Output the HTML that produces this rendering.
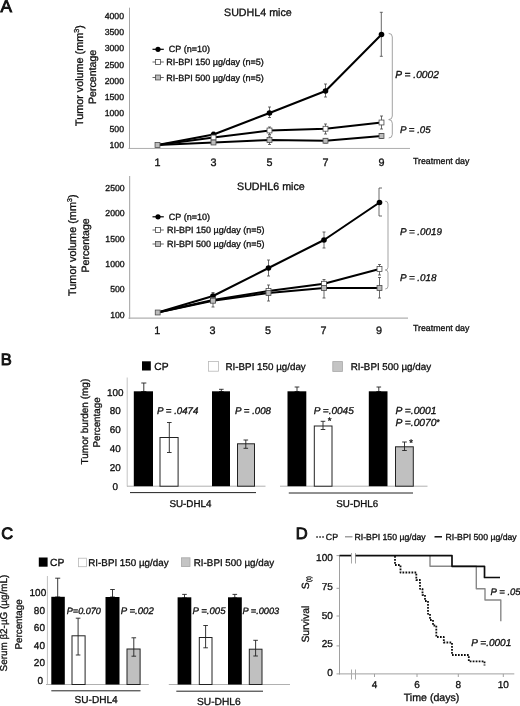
<!DOCTYPE html>
<html><head><meta charset="utf-8"><title>Figure</title>
<style>
html,body{margin:0;padding:0;background:#fff;}
svg{display:block;text-rendering:geometricPrecision;font-family:"Liberation Sans",Arial,Helvetica,sans-serif;}
</style></head><body>
<svg width="520" height="706" viewBox="0 0 520 706">
<defs><filter id="soft" x="0" y="0" width="520" height="706" filterUnits="userSpaceOnUse"><feGaussianBlur stdDeviation="0.35"/></filter></defs>
<rect x="0" y="0" width="520" height="706" fill="#ffffff"/>
<g filter="url(#soft)">
<text x="0.6" y="12.45" font-size="17.2" text-anchor="start" fill="#111" stroke="#111"   stroke-width="0.9">A</text>
<line x1="129.5" y1="7.7" x2="129.5" y2="148.5" stroke="#9c9c9c" stroke-width="0.9" />
<line x1="128.5" y1="148.45" x2="410" y2="148.45" stroke="#a4a4a4" stroke-width="0.9" />
<text x="124" y="19.1" font-size="8.7" text-anchor="end" fill="#0c0c0c" stroke="#0c0c0c" stroke-width="0.3"  >4000</text>
<text x="124" y="35.1" font-size="8.7" text-anchor="end" fill="#0c0c0c" stroke="#0c0c0c" stroke-width="0.3"  >3500</text>
<text x="124" y="51.1" font-size="8.7" text-anchor="end" fill="#0c0c0c" stroke="#0c0c0c" stroke-width="0.3"  >3000</text>
<text x="124" y="67.6" font-size="8.7" text-anchor="end" fill="#0c0c0c" stroke="#0c0c0c" stroke-width="0.3"  >2500</text>
<text x="124" y="83.6" font-size="8.7" text-anchor="end" fill="#0c0c0c" stroke="#0c0c0c" stroke-width="0.3"  >2000</text>
<text x="124" y="100.1" font-size="8.7" text-anchor="end" fill="#0c0c0c" stroke="#0c0c0c" stroke-width="0.3"  >1500</text>
<text x="124" y="116.1" font-size="8.7" text-anchor="end" fill="#0c0c0c" stroke="#0c0c0c" stroke-width="0.3"  >1000</text>
<text x="124" y="132.1" font-size="8.7" text-anchor="end" fill="#0c0c0c" stroke="#0c0c0c" stroke-width="0.3"  >500</text>
<text x="124" y="148.1" font-size="8.7" text-anchor="end" fill="#0c0c0c" stroke="#0c0c0c" stroke-width="0.3"  >100</text>
<text transform="translate(82.5 126) rotate(-90)" font-size="10.8" text-anchor="start" fill="#0c0c0c" stroke="#0c0c0c" stroke-width="0.3" >Tumor volume (mm<tspan font-size="7.2" dy="-3.5">3</tspan><tspan dy="3.5">)</tspan></text>
<text transform="translate(95.8 104) rotate(-90)" font-size="10.6" text-anchor="start" fill="#0c0c0c" stroke="#0c0c0c" stroke-width="0.3" >Percentage</text>
<text x="224" y="15.5" font-size="10.7" text-anchor="start" fill="#0c0c0c" stroke="#0c0c0c" stroke-width="0.3"  >SUDHL4 mice</text>
<text x="157.4" y="165.6" font-size="10.8" text-anchor="middle" fill="#0c0c0c" stroke="#0c0c0c" stroke-width="0.3"  >1</text>
<text x="213.4" y="165.6" font-size="10.8" text-anchor="middle" fill="#0c0c0c" stroke="#0c0c0c" stroke-width="0.3"  >3</text>
<text x="269.4" y="165.6" font-size="10.8" text-anchor="middle" fill="#0c0c0c" stroke="#0c0c0c" stroke-width="0.3"  >5</text>
<text x="325.4" y="165.6" font-size="10.8" text-anchor="middle" fill="#0c0c0c" stroke="#0c0c0c" stroke-width="0.3"  >7</text>
<text x="381.4" y="165.6" font-size="10.8" text-anchor="middle" fill="#0c0c0c" stroke="#0c0c0c" stroke-width="0.3"  >9</text>
<text x="413" y="164" font-size="8.8" text-anchor="start" fill="#0c0c0c" stroke="#0c0c0c" stroke-width="0.3"  >Treatment day</text>
<line x1="381.3" y1="12.3" x2="381.3" y2="56.3" stroke="#444" stroke-width="0.8" />
<line x1="379.8" y1="12.3" x2="382.8" y2="12.3" stroke="#444" stroke-width="0.8" />
<line x1="379.8" y1="56.3" x2="382.8" y2="56.3" stroke="#444" stroke-width="0.8" />
<line x1="325.5" y1="84" x2="325.5" y2="97" stroke="#444" stroke-width="0.8" />
<line x1="324.0" y1="84" x2="327.0" y2="84" stroke="#444" stroke-width="0.8" />
<line x1="324.0" y1="97" x2="327.0" y2="97" stroke="#444" stroke-width="0.8" />
<line x1="269.5" y1="107" x2="269.5" y2="117.5" stroke="#444" stroke-width="0.8" />
<line x1="268.0" y1="107" x2="271.0" y2="107" stroke="#444" stroke-width="0.8" />
<line x1="268.0" y1="117.5" x2="271.0" y2="117.5" stroke="#444" stroke-width="0.8" />
<line x1="213.5" y1="132" x2="213.5" y2="137" stroke="#444" stroke-width="0.8" />
<line x1="212.0" y1="132" x2="215.0" y2="132" stroke="#444" stroke-width="0.8" />
<line x1="212.0" y1="137" x2="215.0" y2="137" stroke="#444" stroke-width="0.8" />
<line x1="269.5" y1="127" x2="269.5" y2="134.5" stroke="#444" stroke-width="0.8" />
<line x1="268.0" y1="127" x2="271.0" y2="127" stroke="#444" stroke-width="0.8" />
<line x1="268.0" y1="134.5" x2="271.0" y2="134.5" stroke="#444" stroke-width="0.8" />
<line x1="325.5" y1="124" x2="325.5" y2="134" stroke="#444" stroke-width="0.8" />
<line x1="324.0" y1="124" x2="327.0" y2="124" stroke="#444" stroke-width="0.8" />
<line x1="324.0" y1="134" x2="327.0" y2="134" stroke="#444" stroke-width="0.8" />
<line x1="381.5" y1="116" x2="381.5" y2="129" stroke="#444" stroke-width="0.8" />
<line x1="380.0" y1="116" x2="383.0" y2="116" stroke="#444" stroke-width="0.8" />
<line x1="380.0" y1="129" x2="383.0" y2="129" stroke="#444" stroke-width="0.8" />
<line x1="269.5" y1="136" x2="269.5" y2="144.5" stroke="#444" stroke-width="0.8" />
<line x1="268.0" y1="136" x2="271.0" y2="136" stroke="#444" stroke-width="0.8" />
<line x1="268.0" y1="144.5" x2="271.0" y2="144.5" stroke="#444" stroke-width="0.8" />
<line x1="325.5" y1="138.5" x2="325.5" y2="143" stroke="#444" stroke-width="0.8" />
<line x1="324.0" y1="138.5" x2="327.0" y2="138.5" stroke="#444" stroke-width="0.8" />
<line x1="324.0" y1="143" x2="327.0" y2="143" stroke="#444" stroke-width="0.8" />
<line x1="381.5" y1="133.5" x2="381.5" y2="138.5" stroke="#444" stroke-width="0.8" />
<line x1="380.0" y1="133.5" x2="383.0" y2="133.5" stroke="#444" stroke-width="0.8" />
<line x1="380.0" y1="138.5" x2="383.0" y2="138.5" stroke="#444" stroke-width="0.8" />
<polyline points="157.5,145 213.5,142.5 269.5,140 325.5,140.75 381.5,136" fill="none" stroke="#000" stroke-width="2.05" stroke-linejoin="round" />
<polyline points="157.5,145 213.5,137.5 269.5,130.5 325.5,128.75 381.5,122.5" fill="none" stroke="#000" stroke-width="2.05" stroke-linejoin="round" />
<polyline points="157.5,145 213.5,134.5 269.5,113 325.5,91 381.5,34.5" fill="none" stroke="#000" stroke-width="2.05" stroke-linejoin="round" />
<circle cx="213.5" cy="134.5" r="2.8" fill="#000"/>
<circle cx="269.5" cy="113" r="2.8" fill="#000"/>
<circle cx="325.5" cy="91" r="2.8" fill="#000"/>
<circle cx="381.5" cy="34.5" r="2.8" fill="#000"/>
<rect x="211.05" y="135.05" width="4.9" height="4.9" fill="#fff" stroke="#4a4a4a" stroke-width="0.8"/>
<rect x="267.05" y="128.05" width="4.9" height="4.9" fill="#fff" stroke="#4a4a4a" stroke-width="0.8"/>
<rect x="323.05" y="126.3" width="4.9" height="4.9" fill="#fff" stroke="#4a4a4a" stroke-width="0.8"/>
<rect x="379.05" y="120.05" width="4.9" height="4.9" fill="#fff" stroke="#4a4a4a" stroke-width="0.8"/>
<rect x="155.05" y="142.55" width="4.9" height="4.9" fill="#bcbcbc" stroke="#4a4a4a" stroke-width="0.8"/>
<rect x="211.05" y="140.05" width="4.9" height="4.9" fill="#bcbcbc" stroke="#4a4a4a" stroke-width="0.8"/>
<rect x="267.05" y="137.55" width="4.9" height="4.9" fill="#bcbcbc" stroke="#4a4a4a" stroke-width="0.8"/>
<rect x="323.05" y="138.3" width="4.9" height="4.9" fill="#bcbcbc" stroke="#4a4a4a" stroke-width="0.8"/>
<rect x="379.05" y="133.55" width="4.9" height="4.9" fill="#bcbcbc" stroke="#4a4a4a" stroke-width="0.8"/>
<line x1="152.5" y1="49.3" x2="163.8" y2="49.3" stroke="#000" stroke-width="1.2" />
<circle cx="158" cy="49.3" r="2.6" fill="#000"/>
<text x="168.8" y="52.3" font-size="9" text-anchor="start" fill="#0c0c0c" stroke="#0c0c0c" stroke-width="0.3"  >CP (n=10)</text>
<line x1="152.5" y1="62" x2="163.8" y2="62" stroke="#555" stroke-width="0.9" />
<rect x="155.55" y="59.55" width="4.9" height="4.9" fill="#fff" stroke="#4a4a4a" stroke-width="0.8"/>
<text x="166.3" y="65" font-size="9" text-anchor="start" fill="#0c0c0c" stroke="#0c0c0c" stroke-width="0.3"  >RI-BPI 150 &#181;g/day (n=5)</text>
<line x1="152.5" y1="77.5" x2="163.8" y2="77.5" stroke="#555" stroke-width="0.9" />
<rect x="155.55" y="75.05" width="4.9" height="4.9" fill="#bcbcbc" stroke="#4a4a4a" stroke-width="0.8"/>
<text x="166.3" y="80.5" font-size="9" text-anchor="start" fill="#0c0c0c" stroke="#0c0c0c" stroke-width="0.3"  >RI-BPI 500 &#181;g/day (n=5)</text>
<path d="M388.7 33.4 Q392.3 33.4 392.3 37.00000000000002 L392.3 115.99999999999997 Q392.3 119.6 388.7 119.6" fill="none" stroke="#999" stroke-width="0.9"/>
<path d="M388.7 119.6 Q392.3 119.6 392.3 123.20000000000002 L392.3 134.39999999999998 Q392.3 138 388.7 138" fill="none" stroke="#999" stroke-width="0.9"/>
<text x="395.3" y="78.2" font-size="10.2" text-anchor="start" fill="#0c0c0c" stroke="#0c0c0c" stroke-width="0.3" font-style="italic" >P = .0002</text>
<text x="400" y="132.5" font-size="9.7" text-anchor="start" fill="#0c0c0c" stroke="#0c0c0c" stroke-width="0.3" font-style="italic" >P = .05</text>
<line x1="129.6" y1="176" x2="129.6" y2="319" stroke="#b0b0b0" stroke-width="1.2" />
<line x1="128.5" y1="318.2" x2="408" y2="318.2" stroke="#b0b0b0" stroke-width="1.2" />
<text x="124.7" y="191.0" font-size="8.7" text-anchor="end" fill="#0c0c0c" stroke="#0c0c0c" stroke-width="0.3"  >2500</text>
<text x="124.7" y="216.25" font-size="8.7" text-anchor="end" fill="#0c0c0c" stroke="#0c0c0c" stroke-width="0.3"  >2000</text>
<text x="124.7" y="241.5" font-size="8.7" text-anchor="end" fill="#0c0c0c" stroke="#0c0c0c" stroke-width="0.3"  >1500</text>
<text x="124.7" y="266.75" font-size="8.7" text-anchor="end" fill="#0c0c0c" stroke="#0c0c0c" stroke-width="0.3"  >1000</text>
<text x="124.7" y="292.25" font-size="8.7" text-anchor="end" fill="#0c0c0c" stroke="#0c0c0c" stroke-width="0.3"  >500</text>
<text x="124.7" y="317.5" font-size="8.7" text-anchor="end" fill="#0c0c0c" stroke="#0c0c0c" stroke-width="0.3"  >100</text>
<text transform="translate(75.5 296) rotate(-90)" font-size="10.9" text-anchor="start" fill="#0c0c0c" stroke="#0c0c0c" stroke-width="0.3" >Tumor volume (mm<tspan font-size="7" dy="-3.5">3</tspan><tspan dy="3.5">)</tspan></text>
<text transform="translate(89.3 272.5) rotate(-90)" font-size="10.6" text-anchor="start" fill="#0c0c0c" stroke="#0c0c0c" stroke-width="0.3" >Percentage</text>
<text x="237" y="189.5" font-size="10.7" text-anchor="start" fill="#0c0c0c" stroke="#0c0c0c" stroke-width="0.3"  >SUDHL6 mice</text>
<text x="157.29999999999998" y="334" font-size="10.8" text-anchor="middle" fill="#0c0c0c" stroke="#0c0c0c" stroke-width="0.3"  >1</text>
<text x="212.6" y="334" font-size="10.8" text-anchor="middle" fill="#0c0c0c" stroke="#0c0c0c" stroke-width="0.3"  >3</text>
<text x="268.1" y="334" font-size="10.8" text-anchor="middle" fill="#0c0c0c" stroke="#0c0c0c" stroke-width="0.3"  >5</text>
<text x="323.6" y="334" font-size="10.8" text-anchor="middle" fill="#0c0c0c" stroke="#0c0c0c" stroke-width="0.3"  >7</text>
<text x="379.1" y="334" font-size="10.8" text-anchor="middle" fill="#0c0c0c" stroke="#0c0c0c" stroke-width="0.3"  >9</text>
<text x="413" y="331.3" font-size="8.8" text-anchor="start" fill="#0c0c0c" stroke="#0c0c0c" stroke-width="0.3"  >Treatment day</text>
<line x1="379" y1="188" x2="379" y2="216" stroke="#444" stroke-width="0.8" />
<line x1="379" y1="188" x2="382" y2="188" stroke="#444" stroke-width="0.8" />
<line x1="379" y1="216" x2="382" y2="216" stroke="#444" stroke-width="0.8" />
<line x1="324" y1="232" x2="324" y2="248" stroke="#444" stroke-width="0.8" />
<line x1="322.5" y1="232" x2="325.5" y2="232" stroke="#444" stroke-width="0.8" />
<line x1="322.5" y1="248" x2="325.5" y2="248" stroke="#444" stroke-width="0.8" />
<line x1="268.5" y1="260" x2="268.5" y2="276" stroke="#444" stroke-width="0.8" />
<line x1="267.0" y1="260" x2="270.0" y2="260" stroke="#444" stroke-width="0.8" />
<line x1="267.0" y1="276" x2="270.0" y2="276" stroke="#444" stroke-width="0.8" />
<line x1="213" y1="292.5" x2="213" y2="307" stroke="#444" stroke-width="0.8" />
<line x1="211.5" y1="292.5" x2="214.5" y2="292.5" stroke="#444" stroke-width="0.8" />
<line x1="211.5" y1="307" x2="214.5" y2="307" stroke="#444" stroke-width="0.8" />
<line x1="379.5" y1="264.5" x2="379.5" y2="275" stroke="#444" stroke-width="0.8" />
<line x1="378.0" y1="264.5" x2="381.0" y2="264.5" stroke="#444" stroke-width="0.8" />
<line x1="378.0" y1="275" x2="381.0" y2="275" stroke="#444" stroke-width="0.8" />
<line x1="324" y1="279.5" x2="324" y2="298" stroke="#444" stroke-width="0.8" />
<line x1="322.5" y1="279.5" x2="325.5" y2="279.5" stroke="#444" stroke-width="0.8" />
<line x1="322.5" y1="298" x2="325.5" y2="298" stroke="#444" stroke-width="0.8" />
<line x1="268.5" y1="285" x2="268.5" y2="301" stroke="#444" stroke-width="0.8" />
<line x1="267.0" y1="285" x2="270.0" y2="285" stroke="#444" stroke-width="0.8" />
<line x1="267.0" y1="301" x2="270.0" y2="301" stroke="#444" stroke-width="0.8" />
<line x1="379.5" y1="277.5" x2="379.5" y2="298" stroke="#444" stroke-width="0.8" />
<line x1="378.0" y1="277.5" x2="381.0" y2="277.5" stroke="#444" stroke-width="0.8" />
<line x1="378.0" y1="298" x2="381.0" y2="298" stroke="#444" stroke-width="0.8" />
<polyline points="157.7,312.5 213,300.75 268.5,293 324,288 379.5,288" fill="none" stroke="#000" stroke-width="2.05" stroke-linejoin="round" />
<polyline points="157.7,312.5 213,300 268.5,291 324,283.75 379.5,269" fill="none" stroke="#000" stroke-width="2.05" stroke-linejoin="round" />
<polyline points="157.7,312.5 213,296 268.5,268 324,240 379.5,202.5" fill="none" stroke="#000" stroke-width="2.05" stroke-linejoin="round" />
<circle cx="213" cy="296" r="2.8" fill="#000"/>
<circle cx="268.5" cy="268" r="2.8" fill="#000"/>
<circle cx="324" cy="240" r="2.8" fill="#000"/>
<circle cx="379.5" cy="202.5" r="2.8" fill="#000"/>
<rect x="210.55" y="297.55" width="4.9" height="4.9" fill="#fff" stroke="#4a4a4a" stroke-width="0.8"/>
<rect x="266.05" y="288.55" width="4.9" height="4.9" fill="#fff" stroke="#4a4a4a" stroke-width="0.8"/>
<rect x="321.55" y="281.3" width="4.9" height="4.9" fill="#fff" stroke="#4a4a4a" stroke-width="0.8"/>
<rect x="377.05" y="266.55" width="4.9" height="4.9" fill="#fff" stroke="#4a4a4a" stroke-width="0.8"/>
<rect x="155.25" y="310.05" width="4.9" height="4.9" fill="#bcbcbc" stroke="#4a4a4a" stroke-width="0.8"/>
<rect x="210.55" y="298.3" width="4.9" height="4.9" fill="#bcbcbc" stroke="#4a4a4a" stroke-width="0.8"/>
<rect x="266.05" y="290.55" width="4.9" height="4.9" fill="#bcbcbc" stroke="#4a4a4a" stroke-width="0.8"/>
<rect x="321.55" y="285.55" width="4.9" height="4.9" fill="#bcbcbc" stroke="#4a4a4a" stroke-width="0.8"/>
<rect x="377.05" y="285.55" width="4.9" height="4.9" fill="#bcbcbc" stroke="#4a4a4a" stroke-width="0.8"/>
<line x1="152.5" y1="216.8" x2="163.8" y2="216.8" stroke="#000" stroke-width="1.2" />
<circle cx="158" cy="216.8" r="2.6" fill="#000"/>
<text x="168.8" y="219.8" font-size="9" text-anchor="start" fill="#0c0c0c" stroke="#0c0c0c" stroke-width="0.3"  >CP (n=10)</text>
<line x1="152.5" y1="230" x2="163.8" y2="230" stroke="#555" stroke-width="0.9" />
<rect x="155.55" y="227.55" width="4.9" height="4.9" fill="#fff" stroke="#4a4a4a" stroke-width="0.8"/>
<text x="167" y="233" font-size="9" text-anchor="start" fill="#0c0c0c" stroke="#0c0c0c" stroke-width="0.3"  >RI-BPI 150 &#181;g/day (n=5)</text>
<line x1="152.5" y1="244" x2="163.8" y2="244" stroke="#555" stroke-width="0.9" />
<rect x="155.55" y="241.55" width="4.9" height="4.9" fill="#bcbcbc" stroke="#4a4a4a" stroke-width="0.8"/>
<text x="167" y="247" font-size="9" text-anchor="start" fill="#0c0c0c" stroke="#0c0c0c" stroke-width="0.3"  >RI-BPI 500 &#181;g/day (n=5)</text>
<path d="M385.2 201.2 Q388 201.2 388 204.0 L388 267.2 Q388 270 385.2 270" fill="none" stroke="#999" stroke-width="0.9"/>
<path d="M385.2 270 Q388 270 388 272.8 L388 286.2 Q388 289 385.2 289" fill="none" stroke="#999" stroke-width="0.9"/>
<text x="400" y="234.5" font-size="9.8" text-anchor="start" fill="#0c0c0c" stroke="#0c0c0c" stroke-width="0.3" font-style="italic" >P = .0019</text>
<text x="400" y="280.5" font-size="9.8" text-anchor="start" fill="#0c0c0c" stroke="#0c0c0c" stroke-width="0.3" font-style="italic" >P = .018</text>
<text x="0.85" y="365.45" font-size="16.5" text-anchor="start" fill="#111" stroke="#111"   stroke-width="0.9">B</text>
<line x1="127.2" y1="377.5" x2="127.2" y2="486.5" stroke="#c4c4c4" stroke-width="1" />
<line x1="127" y1="486.2" x2="265.5" y2="486.2" stroke="#b0b0b0" stroke-width="1" />
<line x1="280" y1="486.2" x2="427.5" y2="486.2" stroke="#b0b0b0" stroke-width="1" />
<text x="115.3" y="395.6" font-size="9.9" text-anchor="middle" fill="#0c0c0c" stroke="#0c0c0c" stroke-width="0.3"  >100</text>
<text x="115.3" y="414.40000000000003" font-size="9.9" text-anchor="middle" fill="#0c0c0c" stroke="#0c0c0c" stroke-width="0.3"  >80</text>
<text x="115.3" y="433.3" font-size="9.9" text-anchor="middle" fill="#0c0c0c" stroke="#0c0c0c" stroke-width="0.3"  >60</text>
<text x="115.3" y="452.1" font-size="9.9" text-anchor="middle" fill="#0c0c0c" stroke="#0c0c0c" stroke-width="0.3"  >40</text>
<text x="115.3" y="471.0" font-size="9.9" text-anchor="middle" fill="#0c0c0c" stroke="#0c0c0c" stroke-width="0.3"  >20</text>
<text x="115.3" y="489.8" font-size="9.9" text-anchor="middle" fill="#0c0c0c" stroke="#0c0c0c" stroke-width="0.3"  >0</text>
<text transform="translate(87.5 464.5) rotate(-90)" font-size="10" text-anchor="start" fill="#0c0c0c" stroke="#0c0c0c" stroke-width="0.3" >Tumor burden (mg)</text>
<text transform="translate(99.8 447.5) rotate(-90)" font-size="9.8" text-anchor="start" fill="#0c0c0c" stroke="#0c0c0c" stroke-width="0.3" >Percentage</text>
<rect x="142" y="361.3" width="8.8" height="9.2" fill="#000" stroke="none" stroke-width="1"/>
<text x="154.3" y="370" font-size="10.3" text-anchor="start" fill="#0c0c0c" stroke="#0c0c0c" stroke-width="0.3"  >CP</text>
<rect x="208.5" y="361.5" width="10" height="9.7" fill="#fff" stroke="#b8b8b8" stroke-width="0.8"/>
<text x="225.5" y="370" font-size="9.8" text-anchor="start" fill="#0c0c0c" stroke="#0c0c0c" stroke-width="0.3"  >RI-BPI 150 &#181;g/day</text>
<rect x="332.8" y="361.6" width="9.6" height="9.8" fill="#c4c4c4" stroke="#a8a8a8" stroke-width="0.8"/>
<text x="350.8" y="370" font-size="9.8" text-anchor="start" fill="#0c0c0c" stroke="#0c0c0c" stroke-width="0.3"  >RI-BPI 500 &#181;g/day</text>
<line x1="143.8" y1="383" x2="143.8" y2="391.5" stroke="#222" stroke-width="0.9" />
<line x1="141.3" y1="383" x2="146.3" y2="383" stroke="#222" stroke-width="0.9" />
<line x1="141.3" y1="391.5" x2="146.3" y2="391.5" stroke="#222" stroke-width="0.9" />
<rect x="133.8" y="391.3" width="19.19999999999999" height="94.89999999999998" fill="#000" stroke="none" stroke-width="1"/>
<rect x="160.0" y="437.5" width="18.099999999999994" height="48.69999999999999" fill="#fff" stroke="#222" stroke-width="1"/>
<line x1="169.3" y1="422.5" x2="169.3" y2="452.5" stroke="#222" stroke-width="0.9" />
<line x1="167.0" y1="422.5" x2="171.60000000000002" y2="422.5" stroke="#222" stroke-width="0.9" />
<line x1="167.0" y1="452.5" x2="171.60000000000002" y2="452.5" stroke="#222" stroke-width="0.9" />
<line x1="221.3" y1="389.3" x2="221.3" y2="391.5" stroke="#222" stroke-width="0.9" />
<line x1="219.0" y1="389.3" x2="223.60000000000002" y2="389.3" stroke="#222" stroke-width="0.9" />
<line x1="219.0" y1="391.5" x2="223.60000000000002" y2="391.5" stroke="#222" stroke-width="0.9" />
<rect x="212" y="391.3" width="18" height="94.89999999999998" fill="#000" stroke="none" stroke-width="1"/>
<rect x="237.5" y="443.8" width="17" height="42.39999999999998" fill="#c0c0c0" stroke="#222" stroke-width="1"/>
<line x1="245.8" y1="440" x2="245.8" y2="448.3" stroke="#222" stroke-width="0.9" />
<line x1="243.5" y1="440" x2="248.10000000000002" y2="440" stroke="#222" stroke-width="0.9" />
<line x1="243.5" y1="448.3" x2="248.10000000000002" y2="448.3" stroke="#222" stroke-width="0.9" />
<line x1="297" y1="387" x2="297" y2="391.5" stroke="#222" stroke-width="0.9" />
<line x1="294.7" y1="387" x2="299.3" y2="387" stroke="#222" stroke-width="0.9" />
<line x1="294.7" y1="391.5" x2="299.3" y2="391.5" stroke="#222" stroke-width="0.9" />
<rect x="287.5" y="391.3" width="18.80000000000001" height="94.89999999999998" fill="#000" stroke="none" stroke-width="1"/>
<rect x="314.3" y="426.0" width="17.69999999999999" height="60.19999999999999" fill="#fff" stroke="#222" stroke-width="1"/>
<line x1="323" y1="421.3" x2="323" y2="429.5" stroke="#222" stroke-width="0.9" />
<line x1="320.7" y1="421.3" x2="325.3" y2="421.3" stroke="#222" stroke-width="0.9" />
<line x1="320.7" y1="429.5" x2="325.3" y2="429.5" stroke="#222" stroke-width="0.9" />
<line x1="378.8" y1="387" x2="378.8" y2="391.5" stroke="#222" stroke-width="0.9" />
<line x1="376.5" y1="387" x2="381.1" y2="387" stroke="#222" stroke-width="0.9" />
<line x1="376.5" y1="391.5" x2="381.1" y2="391.5" stroke="#222" stroke-width="0.9" />
<rect x="368.8" y="391.3" width="18.69999999999999" height="94.89999999999998" fill="#000" stroke="none" stroke-width="1"/>
<rect x="395.5" y="446.8" width="17.80000000000001" height="39.39999999999998" fill="#c0c0c0" stroke="#222" stroke-width="1"/>
<line x1="404.5" y1="442" x2="404.5" y2="450.5" stroke="#222" stroke-width="0.9" />
<line x1="402.2" y1="442" x2="406.8" y2="442" stroke="#222" stroke-width="0.9" />
<line x1="402.2" y1="450.5" x2="406.8" y2="450.5" stroke="#222" stroke-width="0.9" />
<text x="329.5" y="424.2" font-size="9.5" text-anchor="middle" fill="#0c0c0c" stroke="#0c0c0c" stroke-width="0.3"  >*</text>
<text x="411" y="446.2" font-size="9.5" text-anchor="middle" fill="#0c0c0c" stroke="#0c0c0c" stroke-width="0.3"  >*</text>
<line x1="130" y1="492.6" x2="256" y2="492.6" stroke="#222" stroke-width="1" />
<line x1="288.8" y1="493" x2="413" y2="493" stroke="#222" stroke-width="1" />
<text x="169.5" y="507.3" font-size="9.8" text-anchor="start" fill="#0c0c0c" stroke="#0c0c0c" stroke-width="0.3"  >SU-DHL4</text>
<text x="336.3" y="506.5" font-size="9.8" text-anchor="start" fill="#0c0c0c" stroke="#0c0c0c" stroke-width="0.3"  >SU-DHL6</text>
<text x="157" y="413.8" font-size="9.7" text-anchor="start" fill="#0c0c0c" stroke="#0c0c0c" stroke-width="0.3" font-style="italic" >P = .0474</text>
<text x="235" y="413.8" font-size="9.7" text-anchor="start" fill="#0c0c0c" stroke="#0c0c0c" stroke-width="0.3" font-style="italic" >P = .008</text>
<text x="313.8" y="413.8" font-size="10" text-anchor="start" fill="#0c0c0c" stroke="#0c0c0c" stroke-width="0.3" font-style="italic" >P =.0045</text>
<text x="395.5" y="414.3" font-size="10.25" text-anchor="start" fill="#0c0c0c" stroke="#0c0c0c" stroke-width="0.3" font-style="italic" >P =.0001</text>
<text x="395.5" y="426.2" font-size="10.25" text-anchor="start" fill="#0c0c0c" stroke="#0c0c0c" stroke-width="0.3" font-style="italic" >P =.0070<tspan font-size="8.5" dy="-1" font-style="normal">*</tspan></text>
<text x="1.35" y="539.0" font-size="16.5" text-anchor="start" fill="#111" stroke="#111"   stroke-width="0.9">C</text>
<rect x="38.8" y="557.5" width="8.8" height="9.2" fill="#000" stroke="none" stroke-width="1"/>
<text x="50" y="566.3" font-size="10.3" text-anchor="start" fill="#0c0c0c" stroke="#0c0c0c" stroke-width="0.3"  >CP</text>
<rect x="78.5" y="558.2" width="8" height="8.5" fill="#fff" stroke="#b8b8b8" stroke-width="0.8"/>
<text x="88.3" y="566.3" font-size="9.8" text-anchor="start" fill="#0c0c0c" stroke="#0c0c0c" stroke-width="0.3"  >RI-BPI 150 &#181;g/day</text>
<rect x="181.5" y="557.8" width="8.5" height="8.8" fill="#c4c4c4" stroke="#a8a8a8" stroke-width="0.8"/>
<text x="193.8" y="566.3" font-size="9.8" text-anchor="start" fill="#0c0c0c" stroke="#0c0c0c" stroke-width="0.3"  >RI-BPI 500 &#181;g/day</text>
<line x1="47.4" y1="576" x2="47.4" y2="685" stroke="#c0c0c0" stroke-width="1" />
<line x1="46" y1="684.5" x2="148.8" y2="684.5" stroke="#b0b0b0" stroke-width="1" />
<line x1="168.8" y1="684.5" x2="290" y2="684.5" stroke="#b0b0b0" stroke-width="1" />
<text x="37.9" y="596.0" font-size="10" text-anchor="middle" fill="#0c0c0c" stroke="#0c0c0c" stroke-width="0.3"  >100</text>
<text x="39.4" y="613.5" font-size="10" text-anchor="middle" fill="#0c0c0c" stroke="#0c0c0c" stroke-width="0.3"  >80</text>
<text x="39.4" y="631.0" font-size="10" text-anchor="middle" fill="#0c0c0c" stroke="#0c0c0c" stroke-width="0.3"  >60</text>
<text x="39.4" y="648.5" font-size="10" text-anchor="middle" fill="#0c0c0c" stroke="#0c0c0c" stroke-width="0.3"  >40</text>
<text x="39.4" y="666.0" font-size="10" text-anchor="middle" fill="#0c0c0c" stroke="#0c0c0c" stroke-width="0.3"  >20</text>
<text x="40.4" y="683.5" font-size="10" text-anchor="middle" fill="#0c0c0c" stroke="#0c0c0c" stroke-width="0.3"  >0</text>
<text transform="translate(7.2 671.4) rotate(-90)" font-size="9.9" text-anchor="start" fill="#0c0c0c" stroke="#0c0c0c" stroke-width="0.3" >Serum &#946;2-&#181;G (&#181;g/mL)</text>
<text transform="translate(21.9 649.5) rotate(-90)" font-size="9.8" text-anchor="start" fill="#0c0c0c" stroke="#0c0c0c" stroke-width="0.3" >Percentage</text>
<line x1="57.7" y1="578.2" x2="57.7" y2="597" stroke="#222" stroke-width="0.9" />
<line x1="55.2" y1="578.2" x2="60.2" y2="578.2" stroke="#222" stroke-width="0.9" />
<line x1="55.2" y1="597" x2="60.2" y2="597" stroke="#222" stroke-width="0.9" />
<rect x="51.3" y="596.8" width="13.5" height="87.70000000000005" fill="#000" stroke="none" stroke-width="1"/>
<rect x="72.0" y="635.8" width="13.099999999999994" height="48.700000000000045" fill="#fff" stroke="#222" stroke-width="1"/>
<line x1="78.1" y1="618.2" x2="78.1" y2="655" stroke="#222" stroke-width="0.9" />
<line x1="75.8" y1="618.2" x2="80.39999999999999" y2="618.2" stroke="#222" stroke-width="0.9" />
<line x1="75.8" y1="655" x2="80.39999999999999" y2="655" stroke="#222" stroke-width="0.9" />
<line x1="112.5" y1="589.5" x2="112.5" y2="597" stroke="#222" stroke-width="0.9" />
<line x1="110.2" y1="589.5" x2="114.8" y2="589.5" stroke="#222" stroke-width="0.9" />
<line x1="110.2" y1="597" x2="114.8" y2="597" stroke="#222" stroke-width="0.9" />
<rect x="105.5" y="597" width="14.0" height="87.5" fill="#000" stroke="none" stroke-width="1"/>
<rect x="127.0" y="649.0" width="13.099999999999994" height="35.5" fill="#c0c0c0" stroke="#222" stroke-width="1"/>
<line x1="133.8" y1="637.8" x2="133.8" y2="656.2" stroke="#222" stroke-width="0.9" />
<line x1="131.5" y1="637.8" x2="136.10000000000002" y2="637.8" stroke="#222" stroke-width="0.9" />
<line x1="131.5" y1="656.2" x2="136.10000000000002" y2="656.2" stroke="#222" stroke-width="0.9" />
<line x1="184.5" y1="594.4" x2="184.5" y2="598" stroke="#222" stroke-width="0.9" />
<line x1="182.2" y1="594.4" x2="186.8" y2="594.4" stroke="#222" stroke-width="0.9" />
<line x1="182.2" y1="598" x2="186.8" y2="598" stroke="#222" stroke-width="0.9" />
<rect x="177.6" y="597.3" width="13.700000000000017" height="87.20000000000005" fill="#000" stroke="none" stroke-width="1"/>
<rect x="199.3" y="637.5" width="12.699999999999989" height="47.0" fill="#fff" stroke="#222" stroke-width="1"/>
<line x1="205.6" y1="625.5" x2="205.6" y2="647.8" stroke="#222" stroke-width="0.9" />
<line x1="203.29999999999998" y1="625.5" x2="207.9" y2="625.5" stroke="#222" stroke-width="0.9" />
<line x1="203.29999999999998" y1="647.8" x2="207.9" y2="647.8" stroke="#222" stroke-width="0.9" />
<line x1="234.8" y1="594.4" x2="234.8" y2="598" stroke="#222" stroke-width="0.9" />
<line x1="232.5" y1="594.4" x2="237.10000000000002" y2="594.4" stroke="#222" stroke-width="0.9" />
<line x1="232.5" y1="598" x2="237.10000000000002" y2="598" stroke="#222" stroke-width="0.9" />
<rect x="228" y="597.3" width="13.800000000000011" height="87.20000000000005" fill="#000" stroke="none" stroke-width="1"/>
<rect x="249.3" y="649.2" width="12.699999999999989" height="35.299999999999955" fill="#c0c0c0" stroke="#222" stroke-width="1"/>
<line x1="255.6" y1="640.3" x2="255.6" y2="656" stroke="#222" stroke-width="0.9" />
<line x1="253.29999999999998" y1="640.3" x2="257.9" y2="640.3" stroke="#222" stroke-width="0.9" />
<line x1="253.29999999999998" y1="656" x2="257.9" y2="656" stroke="#222" stroke-width="0.9" />
<line x1="51.3" y1="690.8" x2="140.5" y2="690.8" stroke="#222" stroke-width="1" />
<line x1="176.3" y1="691.2" x2="263" y2="691.2" stroke="#222" stroke-width="1" />
<text x="74.5" y="703" font-size="10.1" text-anchor="start" fill="#0c0c0c" stroke="#0c0c0c" stroke-width="0.3"  >SU-DHL4</text>
<text x="197" y="704.5" font-size="10.2" text-anchor="start" fill="#0c0c0c" stroke="#0c0c0c" stroke-width="0.3"  >SU-DHL6</text>
<text x="66.8" y="614.2" font-size="9.1" text-anchor="start" fill="#0c0c0c" stroke="#0c0c0c" stroke-width="0.3" font-style="italic" >P=0.070</text>
<text x="120.8" y="613.8" font-size="9.6" text-anchor="start" fill="#0c0c0c" stroke="#0c0c0c" stroke-width="0.3" font-style="italic" >P =.002</text>
<text x="192.5" y="614.2" font-size="9.6" text-anchor="start" fill="#0c0c0c" stroke="#0c0c0c" stroke-width="0.3" font-style="italic" >P =.005</text>
<text x="242.5" y="614" font-size="9.2" text-anchor="start" fill="#0c0c0c" stroke="#0c0c0c" stroke-width="0.3" font-style="italic" >P =.0003</text>
<text x="295.75" y="538.55" font-size="16.5" text-anchor="start" fill="#111" stroke="#111"   stroke-width="0.9">D</text>
<line x1="339.5" y1="555" x2="339.5" y2="674.4" stroke="#a0a0a0" stroke-width="1" />
<line x1="339" y1="673.9" x2="514.3" y2="673.9" stroke="#a0a0a0" stroke-width="1" />
<line x1="336.5" y1="555.6" x2="339.5" y2="555.6" stroke="#a0a0a0" stroke-width="1" />
<line x1="336.5" y1="588.3" x2="339.5" y2="588.3" stroke="#a0a0a0" stroke-width="1" />
<line x1="336.5" y1="616" x2="339.5" y2="616" stroke="#a0a0a0" stroke-width="1" />
<line x1="336.5" y1="645.9" x2="339.5" y2="645.9" stroke="#a0a0a0" stroke-width="1" />
<line x1="336.5" y1="673.9" x2="339.5" y2="673.9" stroke="#a0a0a0" stroke-width="1" />
<text x="332.8" y="561" font-size="10" text-anchor="end" fill="#0c0c0c" stroke="#0c0c0c" stroke-width="0.3"  >100</text>
<text x="332.8" y="589.7" font-size="10" text-anchor="end" fill="#0c0c0c" stroke="#0c0c0c" stroke-width="0.3"  >75</text>
<text x="332.8" y="618.5" font-size="10" text-anchor="end" fill="#0c0c0c" stroke="#0c0c0c" stroke-width="0.3"  >50</text>
<text x="332.8" y="647.3" font-size="10" text-anchor="end" fill="#0c0c0c" stroke="#0c0c0c" stroke-width="0.3"  >25</text>
<text x="332.8" y="676" font-size="10" text-anchor="end" fill="#0c0c0c" stroke="#0c0c0c" stroke-width="0.3"  >0</text>
<line x1="374.5" y1="673.9" x2="374.5" y2="677" stroke="#a0a0a0" stroke-width="1" />
<text x="374.5" y="688" font-size="10" text-anchor="middle" fill="#0c0c0c" stroke="#0c0c0c" stroke-width="0.3"  >4</text>
<line x1="417" y1="673.9" x2="417" y2="677" stroke="#a0a0a0" stroke-width="1" />
<text x="417" y="688" font-size="10" text-anchor="middle" fill="#0c0c0c" stroke="#0c0c0c" stroke-width="0.3"  >6</text>
<line x1="458.3" y1="673.9" x2="458.3" y2="677" stroke="#a0a0a0" stroke-width="1" />
<text x="458.3" y="688" font-size="10" text-anchor="middle" fill="#0c0c0c" stroke="#0c0c0c" stroke-width="0.3"  >8</text>
<line x1="503.3" y1="673.9" x2="503.3" y2="677" stroke="#a0a0a0" stroke-width="1" />
<text x="503.3" y="688" font-size="10" text-anchor="middle" fill="#0c0c0c" stroke="#0c0c0c" stroke-width="0.3"  >10</text>
<text x="403.8" y="700.5" font-size="10.6" text-anchor="start" fill="#0c0c0c" stroke="#0c0c0c" stroke-width="0.3"  >Time (days)</text>
<text transform="translate(308.8 642.6) rotate(-90)" font-size="10.4" text-anchor="start" fill="#0c0c0c" stroke="#0c0c0c" stroke-width="0.3" >Survival</text>
<text transform="translate(309 589.2) rotate(-90)" font-size="10.4" text-anchor="start" fill="#0c0c0c" stroke="#0c0c0c" stroke-width="0.3" >S<tspan font-size="6.6" dy="2.2">(t)</tspan></text>
<line x1="351.5" y1="553" x2="351.5" y2="563.5" stroke="#a8a8a8" stroke-width="1" />
<line x1="351.5" y1="669.5" x2="351.5" y2="679.5" stroke="#aaa" stroke-width="1" />
<line x1="355.5" y1="553" x2="355.5" y2="563.5" stroke="#a8a8a8" stroke-width="1" />
<line x1="355.5" y1="669.5" x2="355.5" y2="679.5" stroke="#aaa" stroke-width="1" />
<line x1="316.3" y1="537" x2="324.8" y2="537" stroke="#111" stroke-width="1.4" stroke-dasharray="1.5 1.5"/>
<text x="325.8" y="539.5" font-size="8.8" text-anchor="start" fill="#0c0c0c" stroke="#0c0c0c" stroke-width="0.3"  >CP</text>
<line x1="345" y1="536.8" x2="352.5" y2="536.8" stroke="#888" stroke-width="1.2" />
<text x="354.5" y="539.5" font-size="8.7" text-anchor="start" fill="#0c0c0c" stroke="#0c0c0c" stroke-width="0.3"  >RI-BPI 150 &#181;g/day</text>
<line x1="434.5" y1="536.8" x2="442" y2="536.8" stroke="#111" stroke-width="1.5" />
<text x="445.5" y="539.5" font-size="8.7" text-anchor="start" fill="#0c0c0c" stroke="#0c0c0c" stroke-width="0.3"  >RI-BPI 500 &#181;g/day</text>
<polyline points="430,555.8 430,566.3 476.3,566.3 476.3,588.8 485,588.8 485,600 500.8,600 500.8,621.3" fill="none" stroke="#888" stroke-width="1.4" stroke-linejoin="round" stroke-linejoin="miter"/>
<polyline points="339.5,555.6 351,555.6" fill="none" stroke="#111" stroke-width="1.7" stroke-linejoin="round" />
<polyline points="355.6,555.6 452,555.6 452,566.3 484.5,566.3 484.5,577.5 500,577.5" fill="none" stroke="#111" stroke-width="1.7" stroke-linejoin="round" stroke-linejoin="miter"/>
<polyline points="395,556 395,565 400.5,565 400.5,572.5 416.3,572.5 416.3,580 420,580 420,588.8 422.5,588.8 422.5,595 425,595 425,601 428,601 428,613.8 430,613.8 430,620 433,620 433,625.5 436.3,625.5 436.3,637 443.8,637 443.8,642.5 452,642.5 452,655 468.8,655 468.8,661.3 484.5,661.3 484.5,665.5" fill="none" stroke="#111" stroke-width="1.8" stroke-linejoin="round" stroke-dasharray="1.7 1.3" stroke-linejoin="miter"/>
<text x="490.6" y="595" font-size="9.5" text-anchor="start" fill="#0c0c0c" stroke="#0c0c0c" stroke-width="0.3" font-style="italic" >P = .05</text>
<text x="471.3" y="646.3" font-size="10" text-anchor="start" fill="#0c0c0c" stroke="#0c0c0c" stroke-width="0.3" font-style="italic" >P =.0001</text>
</g>
</svg>
</body></html>
